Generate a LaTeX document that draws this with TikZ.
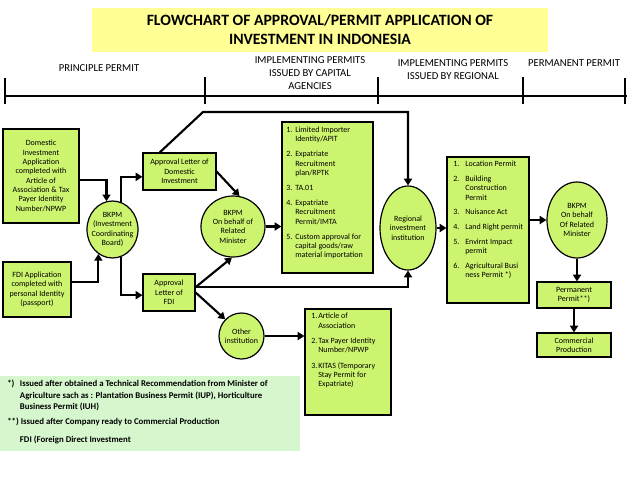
\documentclass[tikz,border=0pt]{standalone}
\usepackage{fontspec}
\setmainfont{Carlito}
\usetikzlibrary{arrows.meta,calc,shapes.geometric}
\definecolor{boxgreen}{RGB}{204,244,110}
\definecolor{notegreen}{RGB}{214,246,206}
\definecolor{titleyellow}{RGB}{255,255,150}
\newcommand\sfont{\fontsize{6}{7}\selectfont}
\newcommand\itm[2]{\makebox[#1][l]{#2}}
\begin{document}
\begin{tikzpicture}[x=0.75pt,y=-0.75pt,
  box/.style={draw=black, line width=0.9pt, fill=boxgreen, inner sep=0pt, align=center, font=\sfont},
  ell/.style={ellipse, draw=black, line width=0.9pt, fill=boxgreen, inner sep=0pt},
  etext/.style={align=center, font=\sfont, inner sep=0pt},
  ltext/.style={align=left, font=\sfont, inner sep=0pt, anchor=north west},
  arr/.style={line width=1.6pt, -{Triangle[length=5pt,width=6pt]}},
  ln/.style={line width=1.6pt},
  tl/.style={line width=1.9pt},
  lbl/.style={font=\fontsize{8}{10}\selectfont, align=center, inner sep=0pt}]
\useasboundingbox (0,0) rectangle (638,479);

% title
\node[fill=titleyellow, minimum width=342pt, minimum height=33pt, align=center,
      font=\bfseries\fontsize{11.8}{14.25}\selectfont] (title) at (320,30)
  {FLOWCHART OF APPROVAL/PERMIT APPLICATION OF\\INVESTMENT IN INDONESIA};

% timeline
\coordinate (t0) at (5,96);
\coordinate (t4) at (627,96);
\draw[tl] (t0) -- (t4);
\draw[tl] (5,78) -- (5,104);
\draw[tl] (205,77) -- (205,104);
\draw[tl] (378,77) -- (378,104);
\draw[tl] (523,77) -- (523,104);
\draw[tl] (625,78) -- (625,104);
\node[lbl] (l1) at (99,68) {PRINCIPLE PERMIT};
\node[lbl] (l2) at (310,73) {IMPLEMENTING PERMITS\\ISSUED BY CAPITAL\\AGENCIES};
\node[lbl] (l3) at (453,69.5) {IMPLEMENTING PERMITS\\ISSUED BY REGIONAL};
\node[lbl] (l4) at (574,63) {PERMANENT PERMIT};

% left column
\node[box, minimum width=57pt, minimum height=70.5pt] (dom) at (41,176)
  {Domestic\\Investment\\Application\\completed with\\Article of\\Association \& Tax\\Payer Identity\\Number/NPWP};
\node[box, minimum width=51pt, minimum height=41.25pt] (fdiapp) at (37,289.5)
  {FDI Application\\completed with\\personal Identity\\(passport)};
\node[ell, minimum width=38.25pt, minimum height=42.75pt,
  label={[etext]center:BKPM\\(Investment\\Coordinating\\Board)}] (bkpm1) at (112.5,229.5) {};

\node[box, minimum width=54.75pt, minimum height=27.75pt] (appdom) at (179.5,171.5)
  {Approval Letter of\\Domestic\\Investment};
\node[box, minimum width=39pt, minimum height=27.75pt] (appfdi) at (169,292.5)
  {Approval\\Letter of\\FDI};
\node[ell, minimum width=48pt, minimum height=45.75pt,
  label={[etext]center:BKPM\\On behalf of\\Related\\Minister}] (minister) at (233,226.5) {};
\node[ell, minimum width=33.75pt, minimum height=34.5pt,
  label={[etext]center:Other\\institution}] (other) at (241.5,336) {};

% capital list
\node[box, minimum width=68.25pt, minimum height=113.25pt] (cap) at (327.5,197.5) {};
\node[ltext] (captext) at (286,126.5) {%
\itm{6.75pt}{1.}Limited Importer\\
\itm{6.75pt}{}Identity/APIT\\[4.3pt]
\itm{6.75pt}{2.}Expatriate\\
\itm{6.75pt}{}Recruitment\\
\itm{6.75pt}{}plan/RPTK\\[4.3pt]
\itm{6.75pt}{3.}TA.01\\[4.3pt]
\itm{6.75pt}{4.}Expatriate\\
\itm{6.75pt}{}Recruitment\\
\itm{6.75pt}{}Permit/IMTA\\[4.3pt]
\itm{6.75pt}{5.}Custom approval for\\
\itm{6.75pt}{}capital goods/raw\\
\itm{6.75pt}{}material importation};

\node[ell, minimum width=42pt, minimum height=63pt,
  label={[etext]center:Regional\\investment\\institution}] (regional) at (408,228) {};

% regional list
\node[box, minimum width=61.5pt, minimum height=109.5pt] (reg) at (488,230) {};
\node[ltext] (regtext) at (453,161) {%
\itm{9pt}{1.}Location Permit\\[4pt]
\itm{9pt}{2.}Building\\
\itm{9pt}{}Construction\\
\itm{9pt}{}Permit\\[4pt]
\itm{9pt}{3.}Nuisance Act\\[4pt]
\itm{9pt}{4.}Land Right permit\\[4pt]
\itm{9pt}{5.}Envirnt Impact\\
\itm{9pt}{}permit\\[4pt]
\itm{9pt}{6.}Agricultural Busi\\
\itm{9pt}{}ness Permit *)};

\node[ell, minimum width=45pt, minimum height=57pt,
  label={[etext]center:BKPM\\On behalf\\Of Related\\Minister}] (bkpm3) at (577,220) {};
\node[box, minimum width=55.5pt, minimum height=19.5pt] (perm) at (574,295) {Permanent\\Permit**)};
\node[box, minimum width=55.5pt, minimum height=18pt] (comm) at (574,345) {Commercial\\Production};

% other list
\node[box, minimum width=64.5pt, minimum height=79.5pt] (olist) at (348,362) {};
\node[ltext] (olisttext) at (311,313) {%
\itm{5.25pt}{1.}Article of\\
\itm{5.25pt}{}Association\\[4.5pt]
\itm{5.25pt}{2.}Tax Payer Identity\\
\itm{5.25pt}{}Number/NPWP\\[4.5pt]
\itm{5.25pt}{3.}KITAS (Temporary\\
\itm{5.25pt}{}Stay Permit for\\
\itm{5.25pt}{}Expatriate)};

% notes
\node[fill=notegreen, minimum width=225pt, minimum height=56pt, inner sep=0pt] (note) at (150,413.5) {};
\node[ltext, font=\bfseries\fontsize{6.6}{8.8}\selectfont] (notetext) at (7,379.5) {%
\itm{9.5pt}{*)}Issued after obtained a Technical Recommendation from Minister of\\
\itm{9.5pt}{}Agriculture sach as : Plantation Business Permit (IUP), Horticulture\\
\itm{9.5pt}{}Business Permit (IUH)\\[2.5pt]
**)\ Issued after Company ready to Commercial Production\\[4.5pt]
\itm{9.5pt}{}FDI (Foreign Direct Investment};

% connectors
\draw[arr] ([yshift=-3pt]dom.east) -| (bkpm1.102);
\draw[arr] ([yshift=5.5pt]fdiapp.east) -| (bkpm1.240);
\draw[arr] (bkpm1.73) |- ([yshift=-4pt]appdom.west);
\draw[arr] (bkpm1.287) |- ([yshift=-2pt]appfdi.west);
\draw[arr] (appdom.east) -- (minister.78);
\draw[arr] ([yshift=4pt]appfdi.east) -- (minister.268);
\draw[arr] (appfdi.east) -- (other.north west);
\draw[arr] ([yshift=4pt]appfdi.east) -| (regional.south);
\coordinate (topc) at (203,112);
\draw[arr] ([xshift=13pt]appdom.north west) -- (topc) -| (regional.north);
\draw[arr] (minister.east) -- (minister.east -| cap.west);
\draw[arr] (regional.east) -- (regional.east -| reg.west);
\draw[arr] (bkpm3.west -| reg.east) -- (bkpm3.west);
\draw[arr] (bkpm3.south) -- (bkpm3.south |- perm.north);
\draw[arr] (perm.south) -- (comm.north);
\draw[arr] (other.east) -- (other.east -| olist.west);
\end{tikzpicture}
\end{document}
